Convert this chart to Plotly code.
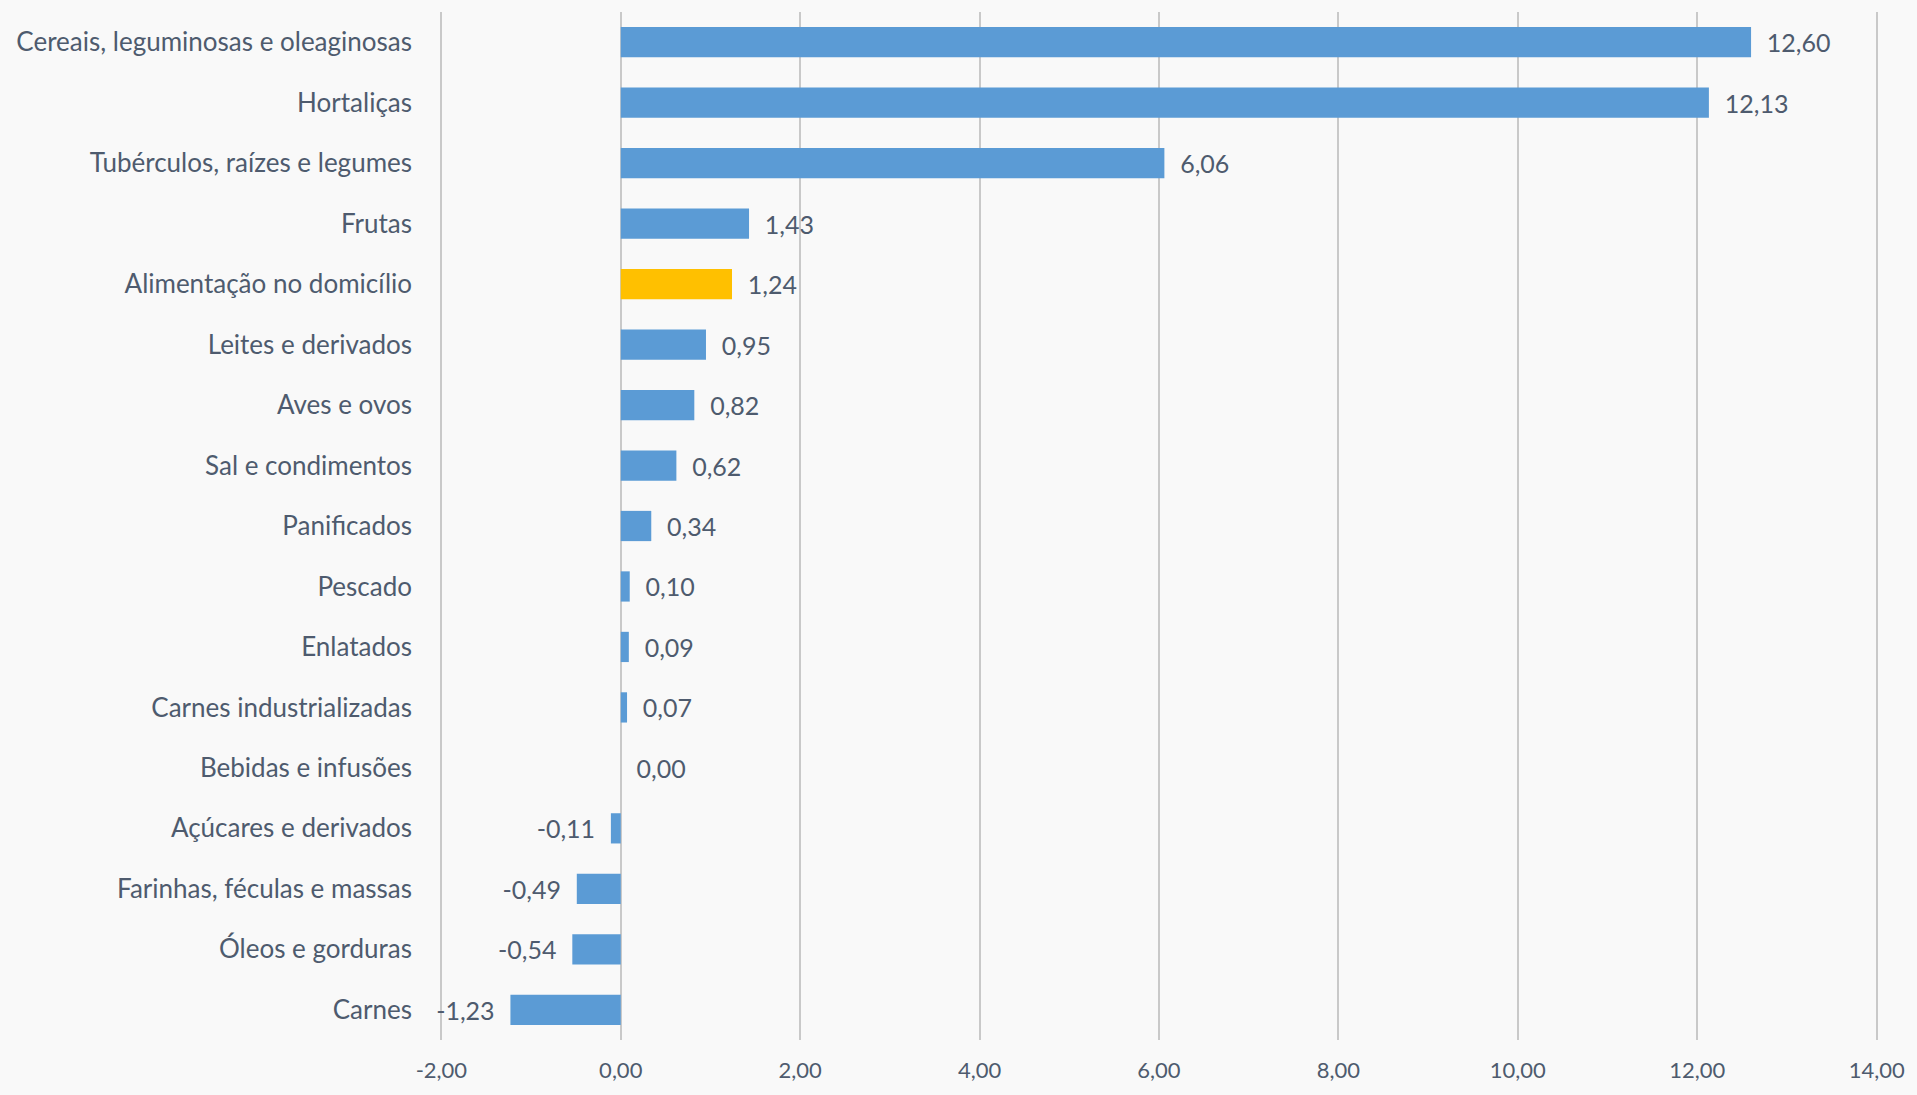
import plotly.graph_objects as go

categories = [
    "Cereais, leguminosas e oleaginosas",
    "Hortaliças",
    "Tubérculos, raízes e legumes",
    "Frutas",
    "Alimentação no domicílio",
    "Leites e derivados",
    "Aves e ovos",
    "Sal e condimentos",
    "Panificados",
    "Pescado",
    "Enlatados",
    "Carnes industrializadas",
    "Bebidas e infusões",
    "Açúcares e derivados",
    "Farinhas, féculas e massas",
    "Óleos e gorduras",
    "Carnes",
]
values = [12.60, 12.13, 6.06, 1.43, 1.24, 0.95, 0.82, 0.62, 0.34, 0.10, 0.09, 0.07, 0.00, -0.11, -0.49, -0.54, -1.23]
highlight = "Alimentação no domicílio"
x_ticks = [-2, 0, 2, 4, 6, 8, 10, 12, 14]
x_tick_labels = ["-2,00", "0,00", "2,00", "4,00", "6,00", "8,00", "10,00", "12,00", "14,00"]

BLUE = "#5b9bd5"
GOLD = "#ffc000"
TXT = "#4e5b6e"
BG = "#f9f9f9"

colors = [GOLD if c == highlight else BLUE for c in categories]


def fmt(v):
    s = f"{v:.2f}".replace(".", ",")
    return s + "  " if v < 0 else "  " + s


fig = go.Figure(
    go.Bar(
        y=categories,
        x=values,
        orientation="h",
        width=0.5,
        marker=dict(color=colors, line=dict(width=0)),
        text=[fmt(v) for v in values],
        textposition="outside",
        textfont=dict(family="Lato", size=25, color=TXT),
        cliponaxis=False,
    )
)

fig.update_layout(
    width=1917,
    height=1095,
    margin=dict(l=440, r=32, t=12, b=43),
    paper_bgcolor=BG,
    plot_bgcolor=BG,
    font=dict(family="Lato", size=25, color=TXT),
    separators=",.",
    showlegend=False,
    bargap=0.5,
)
fig.update_xaxes(
    range=[-2.015, 14.015],
    tickvals=x_ticks,
    ticktext=x_tick_labels,
    showgrid=True,
    gridcolor="#c9c9c9",
    gridwidth=2,
    zeroline=True,
    zerolinecolor="#c9c9c9",
    zerolinewidth=2,
    showline=False,
    ticks="",
    tickfont=dict(size=22, color=TXT),
    ticklabelstandoff=15,
    ticklabeloverflow="allow",
)
fig.update_yaxes(
    categoryorder="array",
    categoryarray=categories[::-1],
    showgrid=False,
    zeroline=False,
    showline=False,
    ticks="",
    ticklabelstandoff=27,
    tickfont=dict(size=26, color=TXT),
)

fig.write_html(
    "out.html",
    config={"displayModeBar": False},
    post_script="document.body.style.margin='0';document.body.style.overflow='hidden';document.body.style.background='" + BG + "';",
)
